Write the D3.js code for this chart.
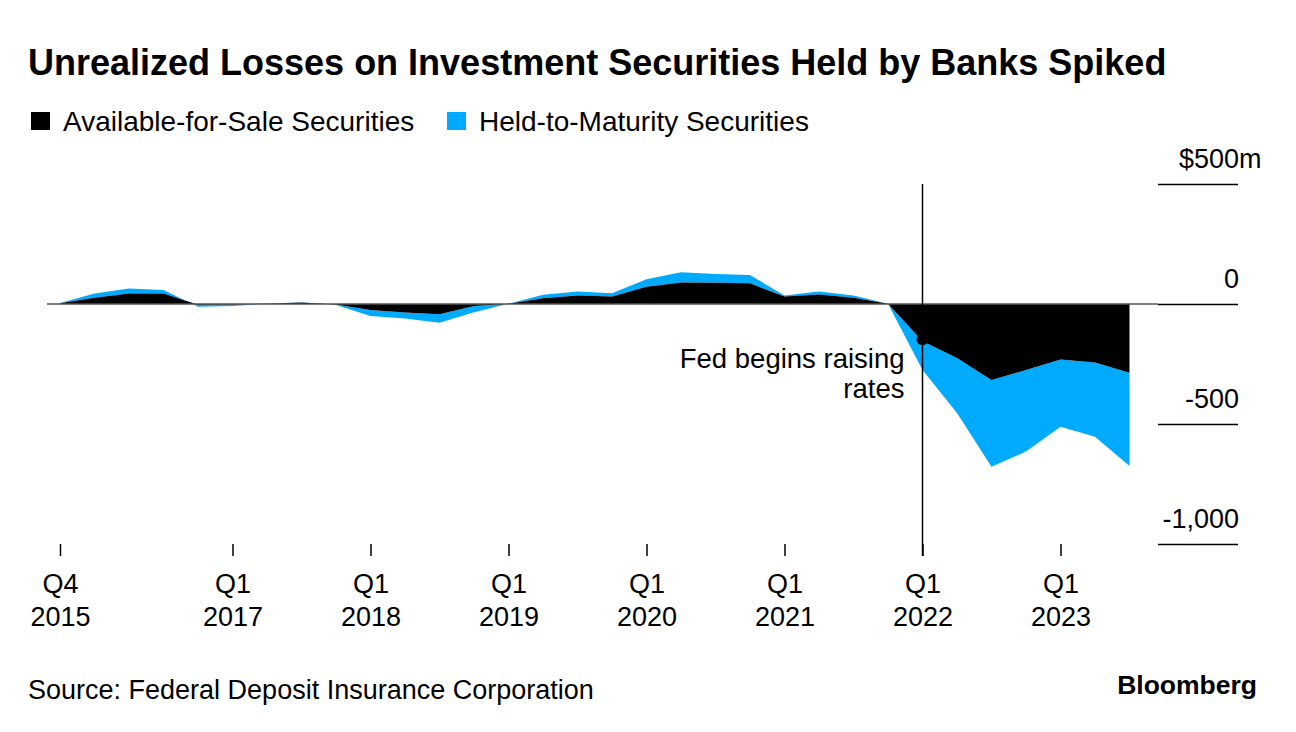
<!DOCTYPE html>
<html>
<head>
<meta charset="utf-8">
<script src="https://cdn.jsdelivr.net/npm/d3@7"></script>
<style>
  html, body { margin: 0; padding: 0; background: #fff; }
  svg { display: block; font-family: "Liberation Sans", Arial, Helvetica, sans-serif; }
</style>
</head>
<body>
<svg id="chart" width="1296" height="732"></svg>
<script>
// ---- Data (unrealized gains/losses, $ as labelled) ----
const quarters = [
  "Q4 2015",
  "Q1 2016","Q2 2016","Q3 2016","Q4 2016",
  "Q1 2017","Q2 2017","Q3 2017","Q4 2017",
  "Q1 2018","Q2 2018","Q3 2018","Q4 2018",
  "Q1 2019","Q2 2019","Q3 2019","Q4 2019",
  "Q1 2020","Q2 2020","Q3 2020","Q4 2020",
  "Q1 2021","Q2 2021","Q3 2021","Q4 2021",
  "Q1 2022","Q2 2022","Q3 2022","Q4 2022",
  "Q1 2023","Q2 2023","Q3 2023"
];
const availableForSale = [
  3,
  26, 44, 44, -3,
  -2, 1, 6, -2,
  -25, -35, -43, -8,
  1, 24, 35, 31,
  72, 90, 89, 86,
  31, 40, 26, 1,
  -155, -225, -317, -275,
  -231, -244, -286
];
const heldToMaturity = [
  1,
  18, 21, 14, -8,
  -6, 0, 1, -2,
  -25, -25, -35, -26,
  0, 15, 17, 14,
  31, 42, 36, 35,
  4, 12, 9, 0,
  -120, -229, -361, -340,
  -280, -309, -389
];
const xTickQuarters = ["Q4 2015","Q1 2017","Q1 2018","Q1 2019","Q1 2020","Q1 2021","Q1 2022","Q1 2023"];
const yTicks = [500, 0, -500, -1000];
const yTickLabels = ["$500", "0", "-500", "-1,000"];
const seriesNames = ["Available-for-Sale Securities", "Held-to-Maturity Securities"];
const seriesColors = ["#000000", "#00aaff"];
const annotationQuarter = "Q1 2022";
const annotationLines = ["Fed begins raising", "rates"];
const titleText = "Unrealized Losses on Investment Securities Held by Banks Spiked";
const sourceText = "Source: Federal Deposit Insurance Corporation";

// ---- Build ----
const svg = d3.select("#chart");
const data = quarters.map((q, i) => ({ q, i, afs: availableForSale[i], total: availableForSale[i] + heldToMaturity[i] }));

const x = d3.scaleLinear().domain([0, quarters.length - 1]).range([60, 60 + 34.5 * (quarters.length - 1)]);
const y = d3.scaleLinear().domain([-1000, 500]).range([544, 184]);

// Title
svg.append("text").attr("x", 28).attr("y", 75)
  .attr("font-size", 36).attr("font-weight", 700).attr("fill", "#000")
  .text(titleText);

// Legend
const legendX = [31, 447];
seriesNames.forEach((name, k) => {
  svg.append("rect").attr("x", legendX[k]).attr("y", 112).attr("width", 19).attr("height", 18).attr("fill", seriesColors[k]);
  svg.append("text").attr("x", legendX[k] + 32).attr("y", 131)
    .attr("font-size", 28).attr("fill", "#000").text(name);
});

// Areas
const areaTotal = d3.area().x(d => x(d.i)).y0(d => y(d.afs)).y1(d => y(d.total));
const areaAfs = d3.area().x(d => x(d.i)).y0(y(0)).y1(d => y(d.afs));
svg.append("path").datum(data).attr("d", areaTotal).attr("fill", seriesColors[1]);
svg.append("path").datum(data).attr("d", areaAfs).attr("fill", seriesColors[0]);

// Zero baseline across the plot
svg.append("line").attr("x1", 47).attr("x2", 1158).attr("y1", y(0)).attr("y2", y(0))
  .attr("stroke", "#555").attr("stroke-width", 1.5);

// Y axis (right side, tick lines + labels)
const yAxis = d3.axisRight(y).tickValues(yTicks).tickSize(0).tickFormat("");
const yAxisG = svg.append("g").attr("transform", "translate(1158,0)").call(yAxis);
yAxisG.select(".domain").remove();
yAxisG.selectAll(".tick").each(function(d, k) {
  const g = d3.select(this);
  g.append("line").attr("x1", 0).attr("x2", 80).attr("y1", 0).attr("y2", 0)
    .attr("stroke", "#000").attr("stroke-width", 1.5);
  g.append("text").attr("x", 81).attr("y", -17).attr("text-anchor", "end")
    .attr("font-size", 27).attr("fill", "#000").text(yTickLabels[k]);
  if (k === 0) {
    g.append("text").attr("x", 81).attr("y", -17).attr("text-anchor", "start")
      .attr("font-size", 27).attr("fill", "#000").text("m");
  }
});

// X axis ticks and two-line labels
const xTickIdx = xTickQuarters.map(q => quarters.indexOf(q));
const xAxis = d3.axisBottom(x).tickValues(xTickIdx).tickSize(12).tickFormat("");
const xAxisG = svg.append("g").attr("transform", "translate(0,544)").call(xAxis);
xAxisG.select(".domain").remove();
xAxisG.selectAll(".tick line").attr("stroke", "#000").attr("stroke-width", 1.5);
xAxisG.selectAll(".tick").each(function(d) {
  const parts = quarters[d].split(" ");
  const t = d3.select(this).append("text").attr("text-anchor", "middle")
    .attr("font-size", 27).attr("fill", "#000");
  t.append("tspan").attr("x", 0).attr("y", 49).text(parts[0]);
  t.append("tspan").attr("x", 0).attr("y", 82).text(parts[1]);
});

// Annotation
const ai = quarters.indexOf(annotationQuarter);
svg.append("line").attr("x1", x(ai)).attr("x2", x(ai)).attr("y1", 184).attr("y2", 556)
  .attr("stroke", "#000").attr("stroke-width", 1.5);
svg.append("circle").attr("cx", x(ai)).attr("cy", y(availableForSale[ai]) - 2).attr("r", 6).attr("fill", "#000");
const at = svg.append("text").attr("text-anchor", "end").attr("font-size", 27.5).attr("fill", "#000");
annotationLines.forEach((l, k) => {
  at.append("tspan").attr("x", x(ai) - 18).attr("y", 368 + k * 30).text(l);
});

// Footer
svg.append("text").attr("x", 28).attr("y", 699).attr("font-size", 27).attr("fill", "#000").text(sourceText);
svg.append("text").attr("x", 1257).attr("y", 694).attr("text-anchor", "end")
  .attr("font-size", 26.5).attr("font-weight", 700).attr("fill", "#000").text("Bloomberg");
</script>
</body>
</html>
